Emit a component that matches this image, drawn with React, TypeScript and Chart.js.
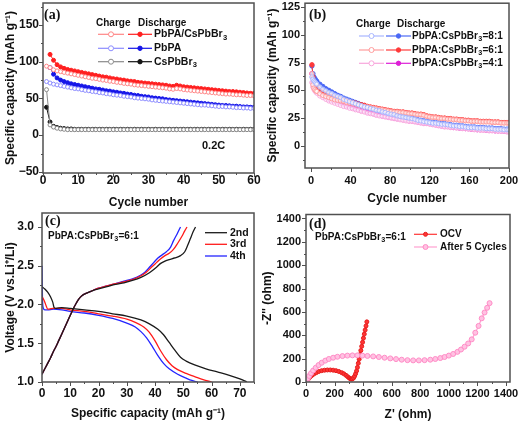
import React, { useEffect, useRef } from "react";
import { Chart, registerables } from "chart.js";

Chart.register(...registerables);

const SANS = "'Liberation Sans', Arial, Helvetica, sans-serif";
const SERIF = "'Liberation Serif', 'Times New Roman', Times, serif";
const INK = "#111111";
const FRAME = "#505050";

// ---------------- (a) cycling of three electrodes ----------------
const aCycles = [
  1, 2, 3, 4, 5, 6, 7, 8, 9, 10,
  11, 12, 13, 14, 15, 16, 17, 18, 19, 20,
  21, 22, 23, 24, 25, 26, 27, 28, 29, 30,
  31, 32, 33, 34, 35, 36, 37, 38, 39, 40,
  41, 42, 43, 44, 45, 46, 47, 48, 49, 50,
  51, 52, 53, 54, 55, 56, 57, 58, 59, 60,
];
const aXTicks = [0, 10, 20, 30, 40, 50, 60];
const aYTicks = [-50, 0, 50, 100, 150];
const aHybridDischarge = [
  null, 110, 102, 96, 93, 91, 89.5, 88.5, 87.5, 86.5,
  85.5, 84.5, 83.5, 82.5, 81.5, 80.5, 79.5, 79, 78, 77,
  76.5, 75.5, 75, 74, 73.5, 73, 72, 71.5, 71, 70.5,
  70, 69.5, 69, 68.5, 68, 67, 66.5, 68, 67, 66,
  65.5, 65, 64.5, 64, 63.5, 63, 62.5, 62, 61.5, 61,
  60.5, 60, 59.5, 59.5, 59, 58.5, 58, 57.5, 57, 57,
];
const aHybridCharge = [
  94, 92, 89, 87.5, 86.5, 85.5, 84.5, 83.5, 82.5, 81.5,
  80.5, 79.5, 78.5, 77.5, 77, 76, 75, 74.5, 73.5, 73,
  72, 71.5, 70.5, 70, 69.5, 68.5, 68, 67.5, 67, 66.5,
  66, 65.5, 65, 64.5, 64, 63, 62.5, 63.5, 63, 62,
  61.5, 61, 60.5, 60, 59.5, 59, 58.5, 58, 57.5, 57,
  56.5, 56, 56, 55.5, 55, 55, 54.5, 54, 54, 53.5,
];
const aPbPADischarge = [
  null, 92, 83, 78, 75, 73, 71.5, 70, 69, 68,
  67, 66, 65, 64, 63, 62.5, 61.5, 60.5, 60, 59,
  58.5, 57.5, 57, 56, 55.5, 54.5, 54, 53, 52.5, 52,
  51, 50.5, 50, 49.5, 48.5, 48, 47.5, 47, 46.5, 46,
  45.5, 45, 44.5, 44, 43.5, 43, 42.5, 42, 41.5, 41,
  40.5, 40.5, 40, 39.5, 39.5, 39, 38.5, 38.5, 38, 38,
];
const aPbPACharge = [
  73, 71, 69.5, 68.5, 67.5, 66.5, 65.5, 64.5, 63.5, 63,
  62, 61, 60.5, 59.5, 59, 58, 57.5, 56.5, 56, 55,
  54.5, 54, 53, 52.5, 52, 51, 50.5, 50, 49.5, 49,
  48, 47.5, 47, 46.5, 46, 45.5, 45, 44.5, 44, 43.5,
  43, 42.5, 42, 41.5, 41, 41, 40.5, 40, 39.5, 39,
  39, 38.5, 38.5, 38, 37.5, 37.5, 37, 37, 36.5, 36.5,
];
const aCsDischarge = [
  38, 18, 12, 10.5, 9.5, 9, 8.5, 8.5, 8, 8,
  8, 8, 8, 8, 8, 8, 8, 8, 8, 8,
  8, 8, 8, 8, 8, 8, 8, 8, 8, 8,
  8, 8, 8, 8, 8, 8, 8, 8, 8, 8,
  8, 8, 8, 8, 8, 8, 8, 8, 8, 8,
  8, 8, 8, 8, 8, 8, 8, 8, 8, 8,
];
const aCsCharge = [
  62, 14, 11, 9.5, 8.5, 8, 7.5, 7.5, 7.5, 7.5,
  7.5, 7.5, 7.5, 7.5, 7.5, 7.5, 7.5, 7.5, 7.5, 7.5,
  7.5, 7.5, 7.5, 7.5, 7.5, 7.5, 7.5, 7.5, 7.5, 7.5,
  7.5, 7.5, 7.5, 7.5, 7.5, 7.5, 7.5, 7.5, 7.5, 7.5,
  7.5, 7.5, 7.5, 7.5, 7.5, 7.5, 7.5, 7.5, 7.5, 7.5,
  7.5, 7.5, 7.5, 7.5, 7.5, 7.5, 7.5, 7.5, 7.5, 7.5,
];

// ---------------- (b) ratio comparison, 200 cycles ----------------
const bCycles = [
  1, 2, 3, 4, 5, 6, 9, 12, 15, 18,
  21, 24, 27, 30, 33, 36, 39, 42, 45, 48,
  51, 54, 57, 60, 63, 66, 69, 72, 75, 78,
  81, 84, 87, 90, 93, 96, 99, 102, 105, 108,
  111, 114, 117, 120, 123, 126, 129, 132, 135, 138,
  141, 144, 147, 150, 153, 156, 159, 162, 165, 168,
  171, 174, 177, 180, 183, 186, 189, 192, 195, 198,
  200,
];
const bXTicks = [0, 40, 80, 120, 160, 200];
const bYTicks = [0, 25, 50, 75, 100, 125];
const b81Discharge = [
  72, 65, 62, 60.5, 59, 58, 55.5, 53.5, 51.5, 50,
  48.5, 47, 45.5, 44.5, 43, 42, 41, 40, 39, 38,
  37, 36, 35, 34, 33.5, 32.5, 32, 31, 30.5, 29.5,
  29, 28.5, 27.5, 27, 26.5, 26, 25.5, 25, 24.5, 23.5,
  23, 22.5, 22, 21.5, 21, 21, 20.5, 20, 20, 19.5,
  19, 18.5, 18.5, 18, 18, 17.5, 17, 17, 17, 16.5,
  16.5, 16.5, 16, 16, 16, 15.5, 15.5, 15.5, 15, 15,
  15,
];
const b81Charge = [
  62, 60, 58.5, 57.5, 56.5, 55.5, 53, 51, 49.5, 48,
  47, 45.5, 44.5, 43.5, 42, 41, 40, 39, 38, 37,
  36, 35, 34.5, 33.5, 33, 32, 31.5, 30.5, 30, 29,
  28.5, 28, 27, 26.5, 26, 25.5, 25, 24.5, 24, 23,
  22.5, 22, 21.5, 21, 20.5, 20.5, 20, 19.5, 19.5, 19,
  18.5, 18, 18, 17.5, 17.5, 17, 16.5, 16.5, 16.5, 16,
  16, 16, 15.5, 15.5, 15.5, 15, 15, 15, 14.5, 14.5,
  14.5,
];
const b61Discharge = [
  73, 62, 58, 56, 54.5, 53.5, 50.5, 48.5, 47, 45.5,
  44.5, 43.5, 42.5, 42, 41, 40.5, 39.5, 39, 38.5, 37.5,
  37, 36.5, 35.5, 35, 34.5, 34, 33.5, 33, 32.5, 32,
  31.5, 31, 31, 30.5, 30.5, 30, 29.5, 29.5, 29, 28.5,
  28.5, 28, 27, 26.5, 26, 26, 25.5, 25, 25, 24.5,
  24.5, 24, 24, 23.5, 23.5, 23, 23, 22.5, 22.5, 22.5,
  22, 22, 22, 22, 21.5, 21.5, 21.5, 21, 21, 21,
  21,
];
const b61Charge = [
  65, 55, 52, 50.5, 49.5, 49, 47, 45.5, 44.5, 43.5,
  42.5, 41.5, 41, 40.5, 40, 39, 38.5, 38, 37.5, 36.5,
  36, 35.5, 35, 34.5, 34, 33.5, 33, 32.5, 32, 31.5,
  31, 30.5, 30.5, 30, 30, 29.5, 29, 29, 28.5, 28,
  28, 27.5, 26.5, 26, 25.5, 25.5, 25, 24.5, 24.5, 24,
  24, 23.5, 23.5, 23, 23, 22.5, 22.5, 22, 22, 22,
  21.5, 21.5, 21.5, 21.5, 21, 21, 21, 20.5, 20.5, 20.5,
  20.5,
];
const b41Discharge = [
  65, 57, 54, 52, 51, 50, 47, 45, 43.5, 42,
  41, 40, 39, 38, 37, 36, 35.5, 34.5, 33.5, 33,
  32, 31.5, 30.5, 30, 29, 28.5, 28, 27, 26.5, 26,
  25.5, 25, 24.5, 24.5, 24, 23.5, 23, 22.5, 22, 21.5,
  21, 20.5, 20.5, 20, 19.5, 19, 18.5, 18, 17.5, 17.5,
  17, 16.5, 16.5, 16, 16, 15.5, 15.5, 15, 15, 14.5,
  14.5, 14.5, 14, 14, 14, 13.5, 13.5, 13.5, 13, 13,
  13,
];
const b41Charge = [
  57, 53, 51, 49.5, 48.5, 47.5, 45, 43.5, 42, 40.5,
  39.5, 38.5, 37.5, 36.5, 35.5, 35, 34, 33.5, 32.5, 32,
  31, 30.5, 29.5, 29, 28.5, 27.5, 27, 26.5, 26, 25.5,
  25, 24.5, 24, 23.5, 23, 22.5, 22, 22, 21.5, 21,
  20.5, 20, 20, 19.5, 19, 18.5, 18, 17.5, 17, 17,
  16.5, 16.5, 16, 16, 15.5, 15.5, 15, 15, 14.5, 14.5,
  14, 14, 14, 13.5, 13.5, 13.5, 13, 13, 13, 12.5,
  12.5,
];

// ---------------- (c) voltage profiles ----------------
const cXTicks = [0, 10, 20, 30, 40, 50, 60, 70];
const cYTicks = [1.0, 1.5, 2.0, 2.5, 3.0];
const c2ndDisX = [0, 1, 2, 3, 3.8, 4.3, 5, 7, 10, 15, 20, 25, 30, 35, 38, 41, 43, 45, 47, 49, 51, 54, 58, 62, 66, 70, 72.5];
const c2ndDisY = [2.23, 2.2, 2.16, 2.1, 2.03, 1.96, 1.95, 1.96, 1.95, 1.93, 1.91, 1.88, 1.85, 1.8, 1.75, 1.68, 1.61, 1.51, 1.41, 1.32, 1.27, 1.22, 1.17, 1.13, 1.09, 1.04, 1.0];
const c3rdDisX = [0, 0.5, 1, 1.5, 2, 2.5, 4, 7, 10, 15, 20, 25, 30, 33, 36, 38, 40, 42, 44, 46, 48, 51, 54, 57, 60];
const c3rdDisY = [2.1, 2.07, 2.03, 1.98, 1.94, 1.94, 1.95, 1.95, 1.93, 1.91, 1.88, 1.85, 1.81, 1.77, 1.71, 1.64, 1.53, 1.4, 1.29, 1.21, 1.16, 1.11, 1.07, 1.03, 1.0];
const c4thDisX = [0, 0.15, 0.4, 1, 2, 4, 7, 10, 15, 20, 25, 30, 33, 35, 37, 39, 41, 43, 45, 48, 51, 53, 55];
const c4thDisY = [2.5, 2.1, 1.96, 1.93, 1.93, 1.94, 1.93, 1.91, 1.89, 1.86, 1.82, 1.76, 1.71, 1.65, 1.57, 1.46, 1.34, 1.24, 1.17, 1.1, 1.05, 1.02, 1.0];
const c2ndChX = [0, 1, 2, 3, 4, 5, 6, 7, 8, 9, 10, 11, 12, 13, 14, 16, 18, 20, 23, 26, 29, 32, 35, 38, 40.5, 42, 43.5, 45, 47, 49, 50.5, 51.5, 52.5, 53.5, 54.3];
const c2ndChY = [1.1, 1.17, 1.24, 1.31, 1.39, 1.46, 1.54, 1.62, 1.7, 1.78, 1.86, 1.94, 2.01, 2.07, 2.11, 2.15, 2.18, 2.2, 2.23, 2.26, 2.28, 2.31, 2.35, 2.41, 2.48, 2.53, 2.56, 2.58, 2.6, 2.63, 2.68, 2.76, 2.85, 2.94, 3.0];
const c3rdChX = [0, 1, 2, 3, 4, 5, 6, 7, 8, 9, 10, 11, 12, 13, 14, 16, 18, 20, 23, 26, 29, 32, 35, 37, 39, 40.5, 42, 43.5, 45, 46.5, 48, 49.5, 50.5, 51.3];
const c3rdChY = [1.1, 1.17, 1.24, 1.31, 1.39, 1.46, 1.54, 1.62, 1.7, 1.78, 1.86, 1.94, 2.01, 2.07, 2.11, 2.15, 2.18, 2.21, 2.24, 2.27, 2.29, 2.32, 2.37, 2.42, 2.49, 2.54, 2.59, 2.63, 2.66, 2.71, 2.79, 2.88, 2.95, 3.0];
const c4thChX = [0, 1, 2, 3, 4, 5, 6, 7, 8, 9, 10, 11, 12, 13, 14, 16, 18, 20, 23, 26, 29, 32, 35, 36.5, 38, 39.5, 41, 42.5, 44, 45.5, 46.5, 47.8, 49];
const c4thChY = [1.1, 1.17, 1.24, 1.31, 1.39, 1.46, 1.54, 1.62, 1.7, 1.78, 1.86, 1.94, 2.01, 2.07, 2.11, 2.15, 2.18, 2.21, 2.24, 2.27, 2.3, 2.33, 2.38, 2.42, 2.48, 2.54, 2.6, 2.64, 2.68, 2.74, 2.82, 2.91, 3.0];

// ---------------- (d) Nyquist plots ----------------
const dXTicks = [0, 200, 400, 600, 800, 1000, 1200, 1400];
const dYTicks = [0, 200, 400, 600, 800, 1000, 1200, 1400];
const ocvX = [5, 10, 18, 28, 40, 55, 72, 90, 110, 130, 150, 170, 190, 210, 230, 250, 265, 280, 292, 302, 310, 318, 325, 333, 340, 347, 354, 360, 366, 372, 378, 384, 390, 396, 402, 408, 414, 420, 426];
const ocvY = [5, 15, 28, 42, 55, 68, 80, 90, 97, 101, 103, 103, 101, 97, 90, 80, 70, 57, 45, 35, 28, 25, 27, 35, 50, 70, 95, 125, 160, 195, 235, 270, 305, 340, 375, 410, 445, 480, 515];
const cyc5X = [5, 12, 22, 35, 50, 68, 88, 110, 135, 160, 190, 220, 255, 290, 325, 360, 395, 430, 470, 510, 550, 590, 630, 670, 710, 750, 790, 830, 870, 905, 940, 970, 1000, 1030, 1060, 1085, 1110, 1135, 1160, 1185, 1208, 1230, 1250, 1268, 1285];
const cyc5Y = [10, 30, 52, 75, 98, 122, 145, 165, 183, 197, 208, 216, 222, 226, 228, 228, 226, 223, 219, 214, 208, 202, 196, 191, 187, 185, 185, 187, 191, 197, 205, 214, 226, 240, 258, 278, 302, 330, 365, 422, 480, 545, 595, 635, 675];

// ---------------- colours ----------------
const A_RED_D = "#ff1f1f";
const A_RED_C = "#ff8585";
const A_BLUE_D = "#1515e8";
const A_BLUE_C = "#8c8cff";
const A_BLK_D = "#141414";
const A_BLK_C = "#8a8a8a";
const B81_D = "#4a68f5";
const B81_C = "#a8b6ff";
const B61_D = "#ff3a3a";
const B61_C = "#ff9c9c";
const B41_D = "#dd1fd6";
const B41_C = "#f8a6dc";
const C_2 = "#1a1a1a";
const C_3 = "#ff1a1a";
const C_4 = "#2424ff";
const D_OCV = "#ff3535";
const D_5 = "#ff9fd0";

const SUB3 = "\u2083";
const fmtNum = (v: number) => (v < 0 ? "\u2212" + Math.abs(v) : String(v));

function axis(kind: "x" | "y", s: any) {
  return {
    type: "linear",
    position: kind === "x" ? "bottom" : "left",
    min: s.min,
    max: s.max,
    afterBuildTicks: (sc: any) => {
      sc.ticks = s.ticks.map((v: number) => ({ value: v }));
    },
    afterFit: (sc: any) => {
      if (kind === "x") sc.height = s.size;
      else sc.width = s.size;
      sc.paddingTop = 0;
      sc.paddingBottom = 0;
      sc.paddingLeft = 0;
      sc.paddingRight = 0;
    },
    grid: { display: false, drawTicks: false },
    border: { display: false },
    ticks: {
      autoSkip: false,
      maxRotation: 0,
      minRotation: 0,
      padding: s.tickPad,
      color: INK,
      font: { family: SANS, size: s.tickFont, weight: "bold" },
      callback: (v: any) => (s.fmt ? s.fmt(Number(v)) : fmtNum(Number(v))),
    },
    title: {
      display: true,
      text: s.title,
      color: INK,
      font: { family: SANS, size: s.titleFont || 12, weight: "bold" },
      padding: s.titlePad,
    },
  };
}

function pts(xs: number[], ys: (number | null)[]) {
  return xs
    .map((x, i) => ({ x, y: ys[i] }))
    .filter((p) => p.y !== null && p.y !== undefined);
}

function marked(data: any[], line: string, border: string, fill: string, r: number, extra: any = {}) {
  return {
    data,
    showLine: true,
    borderColor: line,
    borderWidth: 1,
    pointRadius: r,
    pointHoverRadius: r,
    pointBorderWidth: 1,
    pointBorderColor: border,
    pointBackgroundColor: fill,
    tension: 0,
    ...extra,
  };
}

function curve(data: any[], color: string) {
  return {
    data,
    showLine: true,
    borderColor: color,
    borderWidth: 1.3,
    pointRadius: 0,
    pointHoverRadius: 0,
    cubicInterpolationMode: "monotone",
  };
}

// text with a real-size subscript "3" for the chemical formula
function txt(ctx: CanvasRenderingContext2D, s: string, x: number, y: number, size: number, family = SANS) {
  ctx.fillStyle = INK;
  ctx.textAlign = "left";
  ctx.textBaseline = "middle";
  const parts = s.split(SUB3);
  let cx = x;
  parts.forEach((p, i) => {
    ctx.font = `bold ${size}px ${family}`;
    ctx.fillText(p, cx, y);
    cx += ctx.measureText(p).width;
    if (i < parts.length - 1) {
      ctx.font = `bold ${Math.round(size * 0.72 * 10) / 10}px ${family}`;
      ctx.fillText("3", cx + 0.3, y + size * 0.32);
      cx += ctx.measureText("3").width + 0.6;
    }
  });
}

function sample(ctx: CanvasRenderingContext2D, x1: number, x2: number, y: number, line: string, border: string, fill: string, r: number, lw = 1.2) {
  ctx.strokeStyle = line;
  ctx.lineWidth = lw;
  ctx.beginPath();
  ctx.moveTo(x1, y);
  ctx.lineTo(x2, y);
  ctx.stroke();
  if (r > 0) {
    ctx.beginPath();
    ctx.arc((x1 + x2) / 2, y, r, 0, Math.PI * 2);
    ctx.fillStyle = fill;
    ctx.fill();
    ctx.strokeStyle = border;
    ctx.lineWidth = 1;
    ctx.stroke();
  }
}

function deco(minorX: number, minorY: number, draw: (ctx: CanvasRenderingContext2D) => void) {
  return {
    id: "deco",
    afterDraw(chart: any) {
      const { ctx, chartArea: a, scales } = chart;
      const xs = scales.x;
      const ys = scales.y;
      const isMajor = (v: number, ticks: any[]) => ticks.some((t) => Math.abs(t.value - v) < 1e-6);
      ctx.save();
      ctx.strokeStyle = FRAME;
      ctx.lineWidth = 1;
      ctx.beginPath();
      for (let v = Math.ceil(xs.min / minorX) * minorX; v <= xs.max + 1e-9; v += minorX) {
        const px = Math.round(xs.getPixelForValue(v)) + 0.5;
        const len = isMajor(v, xs.ticks) ? 4 : 2;
        ctx.moveTo(px, a.bottom);
        ctx.lineTo(px, a.bottom + len);
      }
      for (let v = Math.ceil(ys.min / minorY) * minorY; v <= ys.max + 1e-9; v += minorY) {
        const py = Math.round(ys.getPixelForValue(v)) + 0.5;
        const len = isMajor(v, ys.ticks) ? 4 : 2;
        ctx.moveTo(a.left, py);
        ctx.lineTo(a.left - len, py);
      }
      ctx.stroke();
      ctx.lineWidth = 1.5;
      ctx.strokeRect(a.left, a.top, a.right - a.left, a.bottom - a.top);
      draw(ctx);
      ctx.restore();
    },
  };
}

function baseOptions(padTop: number, padRight: number, x: any, y: any) {
  return {
    responsive: false,
    animation: false,
    devicePixelRatio: 1,
    layout: { padding: { top: padTop, right: padRight, left: 0, bottom: 0 } },
    plugins: { legend: { display: false }, tooltip: { enabled: false } },
    events: [],
    scales: { x, y },
  };
}

function configA() {
  return {
    type: "scatter",
    data: {
      datasets: [
        marked(pts(aCycles, aHybridCharge), A_RED_C, A_RED_C, "#ffffff", 2),
        marked(pts(aCycles, aHybridDischarge), A_RED_D, A_RED_D, A_RED_D, 2),
        marked(pts(aCycles, aPbPACharge), A_BLUE_C, A_BLUE_C, "#ffffff", 2),
        marked(pts(aCycles, aPbPADischarge), A_BLUE_D, A_BLUE_D, A_BLUE_D, 2),
        marked(pts(aCycles, aCsCharge), A_BLK_C, A_BLK_C, "#ffffff", 2),
        marked(pts(aCycles, aCsDischarge), A_BLK_D, A_BLK_D, A_BLK_D, 2),
      ],
    },
    options: baseOptions(
      2,
      8,
      axis("x", { min: 0, max: 60, ticks: aXTicks, title: "Cycle number", size: 38, tickFont: 12, tickPad: 0, titlePad: { top: 0, bottom: 1.5 } }),
      axis("y", { min: -51.5, max: 180, ticks: aYTicks, title: "Specific capacity (mAh g\u207B\u00B9)", size: 43, tickFont: 12, tickPad: 4, titlePad: { top: 3.5, bottom: 0 } })
    ),
    plugins: [
      deco(5, 25, (ctx) => {
        txt(ctx, "(a)", 44, 15, 14, SERIF);
        txt(ctx, "Charge", 96, 23.5, 10);
        txt(ctx, "Discharge", 138, 23.5, 10);
        const rows: [number, string, string, string][] = [
          [34.3, A_RED_C, A_RED_D, "PbPA/CsPbBr" + SUB3],
          [48.3, A_BLUE_C, A_BLUE_D, "PbPA"],
          [61.7, A_BLK_C, A_BLK_D, "CsPbBr" + SUB3],
        ];
        for (const [y, cc, cd, label] of rows) {
          sample(ctx, 98, 124, y, cc, cc, "#ffffff", 2.5);
          sample(ctx, 128, 152, y, cd, cd, cd, 2.2);
          txt(ctx, label, 154, y, 10.5);
        }
        txt(ctx, "0.2C", 202, 146, 11);
      }),
    ],
  };
}

function configB() {
  const r = 2.2;
  return {
    type: "scatter",
    data: {
      datasets: [
        marked(pts(bCycles, b81Charge), B81_C, B81_C, "rgba(255,255,255,0.7)", r),
        marked(pts(bCycles, b61Charge), B61_C, B61_C, "rgba(255,255,255,0.7)", r),
        marked(pts(bCycles, b41Charge), B41_C, B41_C, "rgba(255,255,255,0.7)", r),
        marked(pts(bCycles, b61Discharge), B61_D, B61_D, B61_D, r),
        marked(pts(bCycles, b81Discharge), B81_D, B81_D, B81_D, r),
        marked(pts(bCycles, b41Discharge), B41_D, B41_D, B41_D, r),
      ],
    },
    options: baseOptions(
      3,
      15,
      axis("x", { min: -6, max: 200, ticks: bXTicks, title: "Cycle number", size: 43, tickFont: 11, tickPad: 6, titlePad: { top: 0, bottom: 5.5 } }),
      axis("y", { min: -20, max: 128.5, ticks: bYTicks, title: "Specific capacity (mAh g\u207B\u00B9)", size: 43, tickFont: 11, tickPad: 5, titlePad: { top: 3.5, bottom: 0 } })
    ),
    plugins: [
      deco(20, 12.5, (ctx) => {
        txt(ctx, "(b)", 47, 15, 14, SERIF);
        txt(ctx, "Charge", 94, 24, 10);
        txt(ctx, "Discharge", 135, 24, 10);
        const rows: [number, string, string, string][] = [
          [36, B81_C, B81_D, "PbPA:CsPbBr" + SUB3 + "=8:1"],
          [50, B61_C, B61_D, "PbPA:CsPbBr" + SUB3 + "=6:1"],
          [63.3, B41_C, B41_D, "PbPA:CsPbBr" + SUB3 + "=4:1"],
        ];
        for (const [y, cc, cd, label] of rows) {
          sample(ctx, 97, 122, y, cc, cc, "#ffffff", 2.5);
          sample(ctx, 124, 149, y, cd, cd, cd, 2.2);
          txt(ctx, label, 150, y, 10);
        }
      }),
    ],
  };
}

function configC() {
  return {
    type: "scatter",
    data: {
      datasets: [
        curve(pts(c2ndDisX, c2ndDisY), C_2),
        curve(pts(c2ndChX, c2ndChY), C_2),
        curve(pts(c3rdDisX, c3rdDisY), C_3),
        curve(pts(c3rdChX, c3rdChY), C_3),
        curve(pts(c4thDisX, c4thDisY), C_4),
        curve(pts(c4thChX, c4thChY), C_4),
      ],
    },
    options: baseOptions(
      2,
      8,
      axis("x", { min: 0, max: 75, ticks: cXTicks, title: "Specific capacity (mAh g\u207B\u00B9)", size: 40, tickFont: 12, tickPad: 4, titlePad: { top: 0, bottom: 1 } }),
      axis("y", { min: 1.0, max: 3.18, ticks: cYTicks, title: "Voltage (V vs.Li\u207A/Li)", size: 42, tickFont: 12, tickPad: 8, titlePad: { top: 3.5, bottom: 0 }, fmt: (v: number) => v.toFixed(1) })
    ),
    plugins: [
      deco(5, 0.25, (ctx) => {
        txt(ctx, "(c)", 45, 10, 14, SERIF);
        txt(ctx, "PbPA:CsPbBr" + SUB3 + "=6:1", 48, 25, 10);
        const rows: [number, string, string][] = [
          [21.7, C_2, "2nd"],
          [33.3, C_3, "3rd"],
          [45, C_4, "4th"],
        ];
        for (const [y, c, label] of rows) {
          sample(ctx, 205, 227, y, c, c, c, 0, 1.3);
          txt(ctx, label, 230, y, 10.5);
        }
      }),
    ],
  };
}

function configD() {
  return {
    type: "scatter",
    data: {
      datasets: [
        marked(pts(cyc5X, cyc5Y), D_5, "#ff8cc6", "#ffc2e2", 2.5, { borderWidth: 1.2 }),
        marked(pts(ocvX, ocvY), D_OCV, "#e61e1e", D_OCV, 2, { borderWidth: 1.2 }),
      ],
    },
    options: baseOptions(
      3,
      14,
      axis("x", { min: 0, max: 1428, ticks: dXTicks, title: "Z' (ohm)", size: 40, tickFont: 11, tickPad: 5, titlePad: { top: 0, bottom: 0.5 } }),
      axis("y", { min: 0, max: 1434, ticks: dYTicks, title: "-Z'' (ohm)", size: 44, tickFont: 11, tickPad: 5, titlePad: { top: -2, bottom: 0 } })
    ),
    plugins: [
      deco(100, 100, (ctx) => {
        txt(ctx, "(d)", 47, 13, 14, SERIF);
        txt(ctx, "PbPA:CsPbBr" + SUB3 + "=6:1", 53, 26, 10);
        sample(ctx, 152, 175, 23.3, D_OCV, "#e61e1e", D_OCV, 2);
        txt(ctx, "OCV", 178, 23.3, 10);
        sample(ctx, 152, 175, 36, D_5, "#ff8cc6", "#ffc2e2", 2.5);
        txt(ctx, "After 5 Cycles", 178, 36, 10);
      }),
    ],
  };
}

function Panel({ make, left, top }: { make: () => any; left: number; top: number }) {
  const ref = useRef<HTMLCanvasElement | null>(null);
  useEffect(() => {
    if (!ref.current) return;
    const chart = new Chart(ref.current, make());
    return () => chart.destroy();
  }, [make]);
  return (
    <canvas
      ref={ref}
      width={262}
      height={211}
      style={{ position: "absolute", left, top, width: 262, height: 211 }}
    />
  );
}

export default function App() {
  return (
    <div style={{ position: "absolute", left: 0, top: 0, width: 524, height: 422, background: "#ffffff", overflow: "hidden" }}>
      <Panel make={configA} left={0} top={0} />
      <Panel make={configB} left={262} top={0} />
      <Panel make={configC} left={0} top={211} />
      <Panel make={configD} left={262} top={211} />
    </div>
  );
}
